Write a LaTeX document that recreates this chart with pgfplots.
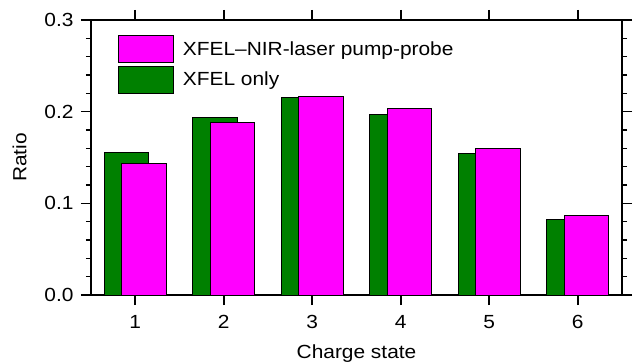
\documentclass[border=0pt]{standalone}
\usepackage{fontspec}
\setmainfont{Liberation Sans}[FakeStretch=1.1]
\usepackage{pgfplots}
\pgfplotsset{compat=1.18}
\definecolor{xgreen}{RGB}{0,128,0}
\definecolor{xmag}{RGB}{255,0,255}
\begin{document}
\begin{tikzpicture}
\begin{axis}[
  scale only axis,
  width=531pt, height=275pt,
  xmin=0.5, xmax=6.5,
  ymin=0, ymax=0.3,
  xtick={1,2,3,4,5,6},
  ytick={0,0.1,0.2,0.3},
  minor y tick num=4,
  tick align=outside,
  tick pos=both,
  xticklabel pos=lower, yticklabel pos=left,
  major tick length=10pt,
  minor tick length=5pt,
  every tick/.style={black, line width=1.6pt},
  axis line style={line width=2pt},
  font=\fontsize{19}{22}\selectfont,
  /pgf/number format/assume math mode=true,
  xticklabel style={yshift=-7pt},
  yticklabel style={xshift=-4pt, /pgf/number format/fixed, /pgf/number format/fixed zerofill, /pgf/number format/precision=1},
  scaled y ticks=false,
  ylabel={Ratio},
  xlabel={Charge state},
  every axis y label/.style={at={(axis description cs:0,0.5)}, xshift=-71.5pt, rotate=90, anchor=center},
  every axis x label/.style={at={(axis description cs:0.5,0)}, yshift=-63pt, anchor=base},
  reverse legend,
  legend image code/.code={\draw[#1] (0pt,-13.5pt) rectangle (55pt,13.5pt);},
  legend style={draw=none, fill=none, at={(axis description cs:0.0508,0.945)}, anchor=north west,
    inner sep=0pt, row sep=2.5pt, nodes={inner sep=0pt},
    /tikz/every odd column/.append style={column sep=8.7pt}},
  legend cell align=left,
]
\addplot[ybar, bar width=0.5, fill=xgreen, draw=black, line width=1pt, bar shift=-0.1] coordinates {
  (1,0.155) (2,0.194) (3,0.216) (4,0.197) (5,0.154) (6,0.082)};
\addlegendentry{XFEL only}
\addplot[ybar, bar width=0.5, fill=xmag, draw=black, line width=1pt, bar shift=0.1] coordinates {
  (1,0.143) (2,0.188) (3,0.217) (4,0.204) (5,0.160) (6,0.0865)};
\addlegendentry{XFEL\textendash NIR-laser pump-probe}
\end{axis}
\pgfresetboundingbox
\path[use as bounding box] ([xshift=-91pt,yshift=-66pt]current axis.south west) rectangle ([xshift=11pt,yshift=20pt]current axis.north east);
\end{tikzpicture}
\end{document}
